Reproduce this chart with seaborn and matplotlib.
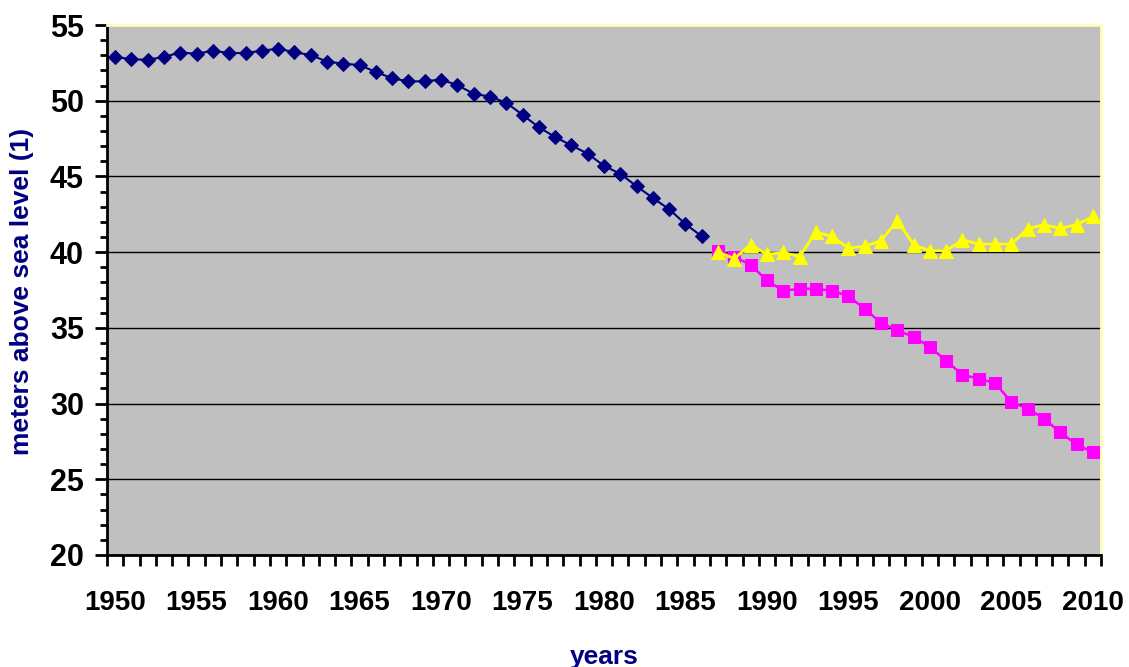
import numpy as np
import pandas as pd
import matplotlib
matplotlib.use("Agg")
import matplotlib.pyplot as plt
import seaborn as sns
from matplotlib.ticker import MultipleLocator, FixedLocator

# poziom wody - odczyty z wykresu
years_hist = list(range(1950, 1987))
level_hist = [52.9, 52.74, 52.7, 52.9, 53.18, 53.1, 53.3, 53.15, 53.15, 53.3,
              53.44, 53.2, 53.02, 52.58, 52.45, 52.35, 51.9, 51.48, 51.28, 51.28,
              51.4, 51.03, 50.46, 50.27, 49.87, 49.07, 48.25, 47.6, 47.05, 46.5,
              45.7, 45.17, 44.35, 43.58, 42.83, 41.86, 41.04]

years_new = list(range(1987, 2011))
level_up = [40.0, 39.58, 40.5, 39.85, 39.98, 39.7, 41.33, 41.04, 40.27, 40.38,
            40.75, 42.08, 40.49, 40.09, 40.09, 40.82, 40.53, 40.53, 40.53, 41.55,
            41.81, 41.57, 41.81, 42.36]
level_down = [40.08, 39.7, 39.16, 38.13, 37.45, 37.58, 37.58, 37.45, 37.1, 36.25,
              35.33, 34.84, 34.4, 33.74, 32.82, 31.9, 31.64, 31.36, 30.09, 29.67,
              29.0, 28.1, 27.3, 26.79]

df_hist = pd.DataFrame({"year": years_hist, "level": level_hist})
df_up = pd.DataFrame({"year": years_new, "level": level_up})
df_down = pd.DataFrame({"year": years_new, "level": level_down})

sns.set_style("white")
plt.rcParams["font.family"] = ["Liberation Sans", "DejaVu Sans"]

fig = plt.figure(figsize=(11.29, 6.67), dpi=100)
ax = fig.add_axes([107 / 1129, 1 - 555 / 667, 994 / 1129, 530 / 667])
ax.set_facecolor("#C0C0C0")

sns.lineplot(data=df_hist, x="year", y="level", ax=ax, color="#000080",
             marker="D", markersize=7.6, markeredgecolor="#000080", linewidth=1.5)
sns.lineplot(data=df_down, x="year", y="level", ax=ax, color="#FF00FF",
             marker="s", markersize=8.4, markeredgecolor="#FF00FF", linewidth=1.8)
sns.lineplot(data=df_up, x="year", y="level", ax=ax, color="#FFFF00",
             marker="^", markersize=10.5, markeredgecolor="#FFFF00", linewidth=2)

ax.set_xlim(1949.5, 2010.5)
ax.set_ylim(20, 55)

ax.xaxis.set_major_locator(FixedLocator(list(range(1950, 2011, 5))))
ax.xaxis.set_minor_locator(FixedLocator([y + 0.5 for y in range(1949, 2011)]))
ax.yaxis.set_major_locator(MultipleLocator(5))
ax.yaxis.set_minor_locator(MultipleLocator(1))

ax.tick_params(axis="x", which="major", length=0, pad=25, labelsize=20,
               labelcolor="black")
ax.tick_params(axis="x", which="minor", length=8, width=2, direction="out",
               color="black", bottom=True)
ax.tick_params(axis="y", which="major", length=8.6, width=2, direction="out",
               pad=8, labelsize=22, color="black", left=True, labelcolor="black")
ax.tick_params(axis="y", which="minor", length=5, width=2, direction="out",
               color="black", left=True)
for lbl in ax.get_xticklabels() + ax.get_yticklabels():
    lbl.set_fontweight("bold")

ax.yaxis.grid(True, color="black", linewidth=1)
ax.xaxis.grid(False)
ax.set_axisbelow(True)

for side in ["left", "bottom"]:
    ax.spines[side].set_color("black")
    ax.spines[side].set_linewidth(2)
for side in ["top", "right"]:
    ax.spines[side].set_visible(True)
    ax.spines[side].set_color("#FFFFB8")
    ax.spines[side].set_linewidth(2)

ax.set_xlabel("years", fontsize=19, fontweight="bold", color="#000080")
ax.xaxis.set_label_coords(0.5, -0.17)
ax.set_ylabel("")
fig.text(22 / 1129, 1 - 291 / 667, "meters above sea level (1)", rotation=90,
         ha="center", va="center", fontsize=19, fontweight="bold", color="#000080")

fig.savefig("out.png", dpi=100)
